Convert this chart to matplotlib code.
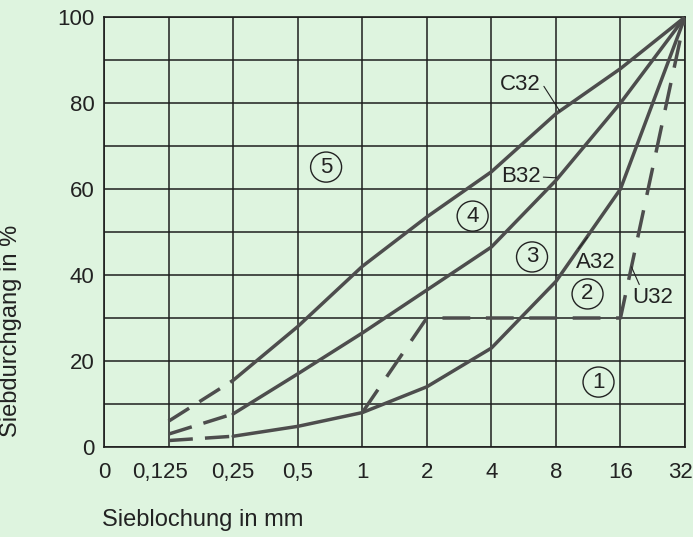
"""Sieblinien mit Korngroesstkorn 32 mm (A32, B32, C32, U32)."""

import matplotlib
matplotlib.use("Agg")
import matplotlib.pyplot as plt
from matplotlib.patches import Ellipse
from matplotlib.transforms import ScaledTranslation

# Siebe (gleichabstaendig auf der x-Achse)
SIEBE = ["0", "0,125", "0,25", "0,5", "1", "2", "4", "8", "16", "32"]

# Siebdurchgang in % ab Sieb 0,125
A32 = [1.5, 2.5, 4.8, 8.0, 14.0, 23.0, 38.5, 60.0, 100.0]
B32 = [3.0, 7.7, 17.0, 26.5, 36.5, 46.5, 62.0, 80.0, 100.0]
C32 = [6.0, 15.5, 28.0, 42.0, 53.5, 64.0, 77.5, 88.0, 100.0]

# Ausfallkoernung U32 ab Sieb 1
U32 = [8.0, 30.0, 30.0, 30.0, 30.0, 100.0]

BEREICHE = ["1", "2", "3", "4", "5"]

HINTERGRUND = "#def4df"
LINIENFARBE = "#4d4d4d"
GITTERFARBE = "#1e1e1e"
TEXTFARBE = "#222222"
GROESSE = 16
GROESSE_ACHSE = 17

plt.rcParams["font.family"] = ["Liberation Sans", "DejaVu Sans"]

fig = plt.figure(figsize=(6.93, 5.37), dpi=100, facecolor=HINTERGRUND)
ax = fig.add_axes([0.1501, 0.1676, 0.8384, 0.8007])
ax.set_facecolor(HINTERGRUND)

ax.set_xlim(0, len(SIEBE) - 1)
ax.set_ylim(0, 100)

ax.set_xticks(range(len(SIEBE)))
ax.set_xticklabels(SIEBE)
ax.set_yticks(range(0, 101, 20))
ax.set_yticks(range(0, 101, 10), minor=True)
ax.tick_params(axis="both", which="both", length=0, labelsize=GROESSE,
               colors=TEXTFARBE)
ax.tick_params(axis="x", pad=11)
ax.tick_params(axis="y", pad=7)

# "0,125" und "32" stehen im Original etwas nach links versetzt
for index, dx in ((1, -9), (9, -5)):
    etikett = ax.get_xticklabels()[index]
    versatz = ScaledTranslation(dx / 100, 0, fig.dpi_scale_trans)
    etikett.set_transform(etikett.get_transform() + versatz)

ax.grid(True, which="both", color=GITTERFARBE, linewidth=1.1)
ax.set_axisbelow(True)
for rand in ax.spines.values():
    rand.set_color(GITTERFARBE)
    rand.set_linewidth(1.2)

strich = dict(color=LINIENFARBE, linewidth=2.5, solid_capstyle="round",
              zorder=3)
x_kurve = list(range(1, len(SIEBE)))
for werte in (A32, B32, C32):
    ax.plot(x_kurve[:2], werte[:2], linestyle=(0, (7, 3.5)),
            dash_capstyle="butt", **strich)
    ax.plot(x_kurve[1:], werte[1:], **strich)

x_u = list(range(4, len(SIEBE)))
ax.plot(x_u, U32, linestyle=(0, (8, 4.5)), dash_capstyle="butt", **strich)

# Kurvenbezeichnungen mit Hinweislinien
fuehrung = dict(arrowstyle="-", color=TEXTFARBE, linewidth=0.8,
                shrinkA=0, shrinkB=0)
ax.annotate("C32", xy=(7.06, 78.1), xytext=(6.455, 84.4),
            fontsize=GROESSE, ha="center", va="center", color=TEXTFARBE,
            arrowprops=dict(fuehrung, relpos=(1.0, 0.6)))
ax.annotate("B32", xy=(7.01, 62.6), xytext=(6.455, 62.8),
            fontsize=GROESSE, ha="center", va="center", color=TEXTFARBE,
            arrowprops=dict(fuehrung, relpos=(1.0, 0.5)))
ax.annotate("A32", xy=(7.49, 48.8), xytext=(7.62, 43.0),
            fontsize=GROESSE, ha="center", va="center", color=TEXTFARBE,
            arrowprops=dict(fuehrung, relpos=(0.0, 1.0)))
ax.annotate("U32", xy=(8.17, 41.9), xytext=(8.50, 34.7),
            fontsize=GROESSE, ha="center", va="center", color=TEXTFARBE,
            arrowprops=dict(fuehrung, relpos=(0.2, 1.0)))

# Eingekreiste Bereichsnummern
orte = [(7.66, 15.1), (7.49, 35.6), (6.63, 44.2), (5.71, 53.7),
        (3.44, 65.1)]
for nummer, (xk, yk) in zip(BEREICHE, orte):
    ax.add_patch(Ellipse((xk, yk), width=0.48, height=7.0,
                         facecolor="none", edgecolor=TEXTFARBE,
                         linewidth=1.0, zorder=4))
    ax.text(xk, yk, nummer, fontsize=GROESSE, ha="center", va="center",
            color=TEXTFARBE, zorder=5)

ax.set_ylabel("Siebdurchgang in %", fontsize=GROESSE_ACHSE,
              color=TEXTFARBE)
ax.yaxis.set_label_coords(-0.141, 0.27)
ax.set_xlabel("Sieblochung in mm", fontsize=GROESSE_ACHSE,
              color=TEXTFARBE, ha="left", va="center")
ax.xaxis.set_label_coords(-0.003, -0.170)

fig.savefig("out.png", dpi=100, facecolor=HINTERGRUND)
